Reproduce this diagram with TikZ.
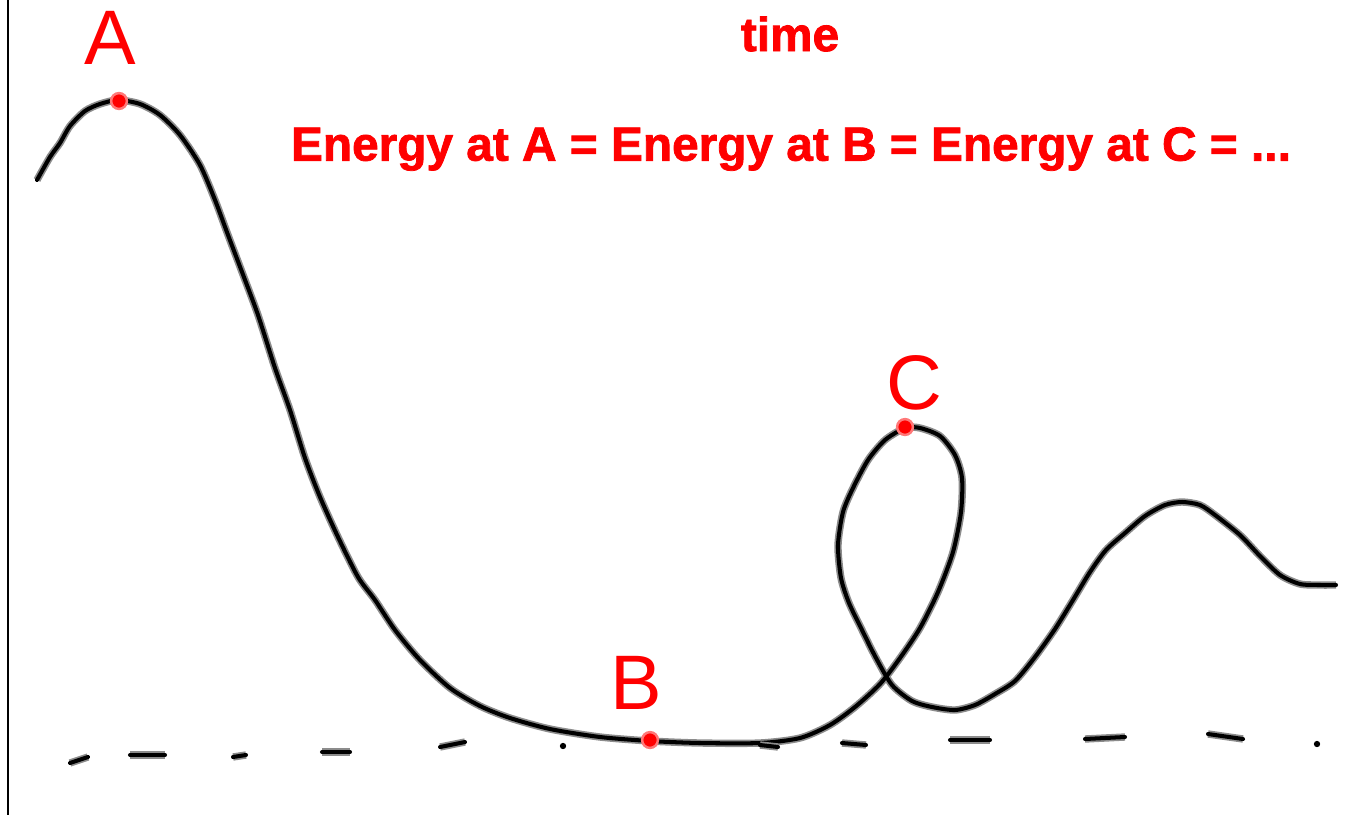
\documentclass[tikz,border=0pt]{standalone}
\usepackage{fontspec}
\setmainfont{Liberation Sans}
\newfontfamily\heavyfont[FakeBold=1.6]{Liberation Sans Bold}
\usetikzlibrary{positioning}
\definecolor{penred}{RGB}{255,0,0}
\definecolor{penglow}{RGB}{255,120,120}

\begin{document}
\begin{tikzpicture}[
          x=0.02cm, y=-0.02cm,
          track/.style={line width=2.3pt, draw=black, line cap=round, line join=round,
                        preaction={draw=black!45, line width=4.2pt}},
          ground/.style={track},
          spot/.style={circle, fill=penred, draw=penglow, line width=1.4pt,
                       minimum size=9pt, inner sep=0pt},
          letter/.style={text=penred, font=\fontsize{44}{44}\selectfont, inner sep=0pt},
          title/.style={text=penred, font=\heavyfont\fontsize{27.2}{30}\selectfont, inner sep=0pt}
        ]
        \useasboundingbox (0,0) rectangle (1345,815);
        % frame edge on the left
        \draw[line width=1.7pt] (8,0) -- (8,815);
        % the coaster track
        \draw[track] plot[smooth, tension=0.45] coordinates {
          (37,180) (50,157) (60,143) (70,126) (85,111) (100,104) (118,100)
          (140,104) (160,115) (180,135) (200,165) (215,200) (228,235)
          (242,272) (258,315) (275,368) (290,410) (305,458) (320,497)
          (338,537) (358,577) (375,600) (395,630) (420,660) (450,688)
          (480,706) (510,718) (550,729) (600,737) (650,741) (700,743)
          (760,743) (800,738) (830,725) (855,707) (880,684) (900,658)
          (920,628) (938,592) (953,552) (961,512) (962,478) (955,455)
          (940,436) (920,428) (905,428) (885,440) (868,460) (853,488)
          (843,512) (838,545) (841,578) (849,603) (862,630) (876,658)
          (892,685) (912,701) (932,707) (955,710) (975,705) (995,694)
          (1015,681) (1035,657) (1055,629) (1073,600) (1090,572)
          (1106,550) (1125,533) (1145,516) (1165,505) (1182,502)
          (1200,505) (1215,515) (1240,535) (1260,556) (1280,575)
          (1300,584) (1320,585) (1336,585)};
        % ground line
        \foreach \xa/\ya/\xb/\yb in {70/763/88/757, 130/755/165/755, 233/757/246/755,
            322/752/350/752, 440/747/465/742, 760/745/778/747, 842/743/866/745,
            950/740/990/740, 1085/739/1125/737, 1208/734/1243/739}
          \draw[ground] (\xa,\ya) -- (\xb,\yb);
        \fill (563,746) circle (1.8pt);
        \fill (1317,744) circle (1.8pt);
        % marked points
        \node[spot] (pa) at (119,101) {};
        \node[spot] (pb) at (650,740) {};
        \node[spot] (pc) at (905,427) {};
        \node[letter] (la) at (110,38) {A};
        \node[letter] (lb) at (636,683) {B};
        \node[letter] (lc) at (914,383) {C};
        % headline text
        \node[title] (t) at (790,34) {time};
        \node[title] (eq) at (791,149) {Energy at A = Energy at B = Energy at C = ...};
      \end{tikzpicture}
\end{document}
